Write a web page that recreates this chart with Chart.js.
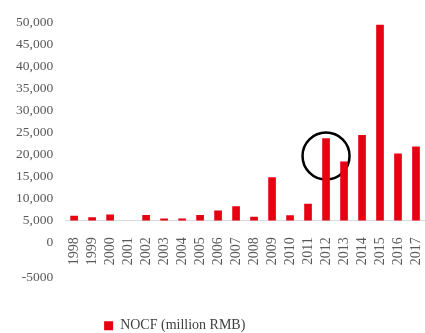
<!DOCTYPE html>
<html lang="en">
  <head>
    <meta charset="UTF-8">
    <meta name="viewport" content="width=device-width, initial-scale=1.0">
    <title>NOCF</title>
    <style>
      html, body {
        margin: 0;
        padding: 0;
        background: #ffffff;
      }
      canvas {
        display: block;
      }
    </style>
  </head>
  <body>
    <canvas id="myChart" width="425" height="333"></canvas>

    <script src="https://cdn.jsdelivr.net/npm/chart.js"></script>
    <script>
      const years = ["1998", "1999", "2000", "2001", "2002", "2003", "2004", "2005", "2006", "2007",
                     "2008", "2009", "2010", "2011", "2012", "2013", "2014", "2015", "2016", "2017"];
      const nocf = [5950, 5600, 6250, null, 6100, 5300, 5300, 6100, 7170, 8080,
                    5700, 14700, 6040, 8670, 23530, 18260, 24280, 49320, 20070, 21650];
      const barBase = 5000;
      const yTicks = [-5000, 0, 5000, 10000, 15000, 20000, 25000, 30000, 35000, 40000, 45000, 50000];
      const yTickLabels = ["-5000", "0", "5,000", "10,000", "15,000", "20,000", "25,000",
                           "30,000", "35,000", "40,000", "45,000", "50,000"];
      // ring drawn around the 2012 bar
      const highlight = [{ x: "2012", y: 19600 }];

      const FONT = "'Liberation Serif', 'Times New Roman', serif";

      document.addEventListener("DOMContentLoaded", function () {
        setupChart();
      });

      function setupChart() {
        const ctx = document.getElementById("myChart").getContext("2d");
        new Chart(ctx, {
          type: "bar",
          data: {
            labels: years,
            datasets: [
              {
                label: "NOCF (million RMB)",
                data: nocf,
                base: barBase,
                backgroundColor: "#e60012",
                borderWidth: 0,
                barThickness: 7,
              },
              {
                type: "line",
                label: "highlight",
                data: highlight,
                showLine: false,
                pointRadius: 23.5,
                pointHoverRadius: 23.5,
                pointBorderWidth: 2.5,
                pointBorderColor: "#000000",
                pointBackgroundColor: "rgba(0,0,0,0)",
              },
            ],
          },
          options: {
            responsive: false,
            animation: false,
            devicePixelRatio: 1,
            layout: {
              autoPadding: false,
              padding: { left: 4, top: 22, right: 0, bottom: -9.75 },
            },
            plugins: {
              tooltip: { enabled: false },
              legend: {
                position: "bottom",
                align: "start",
                fullSize: false,
                labels: {
                  filter: (item) => item.datasetIndex === 0,
                  boxWidth: 9,
                  boxHeight: 9,
                  padding: 39,
                  color: "#404040",
                  font: { family: FONT, size: 14 },
                },
              },
            },
            scales: {
              x: {
                position: { y: barBase },
                grid: { display: false, drawTicks: true, tickLength: 15 },
                border: { display: true, color: "#d9d9d9", width: 1 },
                ticks: {
                  autoSkip: false,
                  minRotation: 90,
                  maxRotation: 90,
                  padding: 2,
                  color: "#595959",
                  font: { family: FONT, size: 14 },
                },
                // rotated year labels fit inside the plot, no side padding needed
                afterFit: function (scale) {
                  scale.paddingLeft = 0;
                  scale.paddingRight = 0;
                },
              },
              y: {
                min: -8500,
                max: 50000,
                grid: { display: false, drawTicks: false },
                border: { display: false },
                afterBuildTicks: function (scale) {
                  scale.ticks = yTicks.map((v) => ({ value: v }));
                },
                ticks: {
                  autoSkip: false,
                  padding: 12,
                  color: "#595959",
                  font: { family: FONT, size: 13.5, lineHeight: 1 },
                  callback: function (value) {
                    const label = yTickLabels[yTicks.indexOf(value)];
                    // the negative label sits a little lower, under the year row
                    return value < 0 ? ["", "", label] : label;
                  },
                },
              },
            },
          },
        });
      }
    </script>
  </body>
</html>
